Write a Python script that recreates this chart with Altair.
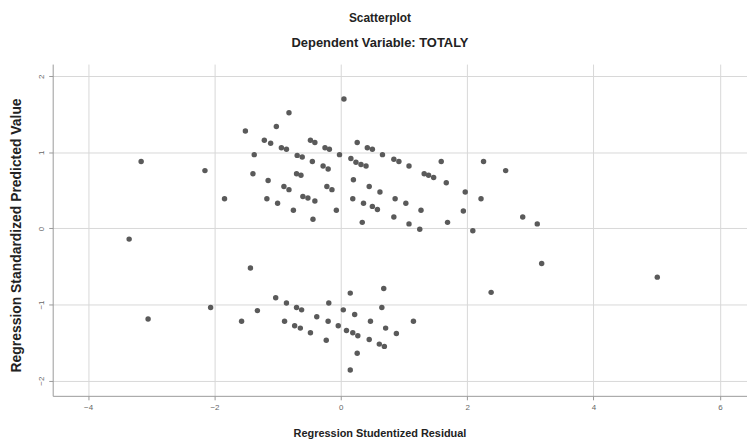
import altair as alt
import pandas as pd

# Regression Studentized Residual (x) and Regression Standardized Predicted Value (y)
resid = [
    -3.16, -3.35, -2.15, -1.84, -1.51, -1.37, -1.39, -1.17, -1.15, -1.02, -1.00, -0.82,
    -1.21, -1.11, -0.94, -0.86, -0.69, -0.61, -0.45, -0.48, -0.41, -0.25, -0.18, -0.02,
    0.05, -0.70, -0.63, -0.28, -0.20, -0.90, -0.82, -0.22, -0.14, -0.60, -0.52, -0.41,
    -0.75, -0.44, -0.07,
    0.26, 0.42, 0.50, 0.66, 0.84, 0.92, 1.08, 1.32, 1.39, 1.47, 1.59, 1.67, 2.26, 2.61,
    0.16, 0.24, 0.32, 0.40, 0.20, 0.45, 0.62, 0.19, 0.36, 0.50, 0.58, 0.86, 1.03, 1.27,
    0.34, 0.84, 1.08, 1.25, 1.69, 1.97, 1.94, 2.22, 2.09, 2.88, 3.11,
    -3.05, -1.43, -2.06, -1.57, -1.32, -1.03, -0.86, -0.70, -0.62, -0.38, -0.19, -0.20,
    0.04, -0.89, -0.73, -0.64, -0.48, -0.23, -0.04, 0.09,
    0.15, 0.68, 0.65, 0.22, 0.47, 0.71, 0.88, 1.15, 0.19, 0.27, 0.45, 0.61, 0.69,
    0.26, 0.15, 2.38, 3.18, 5.01,
]
pred = [
    0.88, -0.14, 0.76, 0.39, 1.28, 0.97, 0.72, 0.39, 0.63, 1.34, 0.33, 1.52,
    1.16, 1.12, 1.06, 1.04, 0.96, 0.94, 0.88, 1.16, 1.13, 1.06, 1.04, 0.97,
    1.70, 0.72, 0.70, 0.82, 0.78, 0.55, 0.51, 0.55, 0.51, 0.42, 0.40, 0.36,
    0.24, 0.12, 0.24,
    1.13, 1.06, 1.04, 0.97, 0.91, 0.88, 0.82, 0.72, 0.70, 0.67, 0.88, 0.60, 0.88, 0.76,
    0.92, 0.87, 0.84, 0.82, 0.64, 0.55, 0.48, 0.39, 0.33, 0.29, 0.25, 0.39, 0.33, 0.24,
    0.08, 0.15, 0.06, -0.01, 0.08, 0.48, 0.23, 0.39, -0.03, 0.15, 0.06,
    -1.19, -0.52, -1.04, -1.22, -1.08, -0.91, -0.98, -1.04, -1.07, -1.16, -0.98, -1.22,
    -1.07, -1.22, -1.28, -1.31, -1.37, -1.47, -1.28, -1.34,
    -0.85, -0.79, -1.04, -1.13, -1.22, -1.31, -1.38, -1.22, -1.37, -1.41, -1.46, -1.52, -1.55,
    -1.64, -1.86, -0.84, -0.46, -0.64,
]

x_ticks = [-4, -2, 0, 2, 4, 6]
y_ticks = [-2, -1, 0, 1, 2]

df = pd.DataFrame({"resid": resid, "pred": pred})

font = "Liberation Sans"

chart = alt.Chart(df).mark_circle(size=30, color="#5a5a5a", opacity=1).encode(
    x=alt.X(
        "resid:Q",
        scale=alt.Scale(domain=[-4.56, 6.43], nice=False, zero=False),
        axis=alt.Axis(
            values=x_ticks,
            title="Regression Studentized Residual",
            titleX=329,
            titleY=38,
            titleBaseline="middle",
            titleFontSize=11,
            labelFontSize=8,
            labelColor="#666666",
            labelPadding=4,
            domainColor="#9a9a9a",
            tickColor="#9a9a9a",
            tickSize=4,
            gridColor="#d8d8d8",
        ),
    ),
    y=alt.Y(
        "pred:Q",
        scale=alt.Scale(domain=[-2.2, 2.16], nice=False, zero=False),
        axis=alt.Axis(
            values=y_ticks,
            title="Regression Standardized Predicted Value",
            titleX=-36,
            titleY=172,
            titleBaseline="middle",
            titleFontSize=14,
            labelAngle=270,
            labelAlign="center",
            labelBaseline="bottom",
            labelFontSize=8,
            labelColor="#666666",
            labelPadding=3,
            domainColor="#9a9a9a",
            tickColor="#9a9a9a",
            tickSize=4,
            gridColor="#d8d8d8",
        ),
    ),
).properties(
    width=699,
    height=334,
    padding={"left": 45, "top": 55, "right": 0, "bottom": 45},
    autosize=alt.AutoSizeParams(type="none"),
    title=alt.TitleParams(
        text="Scatterplot",
        subtitle="Dependent Variable: TOTALY",
        anchor="middle",
        dx=-20,
        offset=13,
        fontSize=12,
        subtitleFontSize=13,
        font=font,
        subtitleFont=font,
        fontWeight="bold",
        subtitleFontWeight="bold",
        color="#222222",
        subtitleColor="#222222",
        subtitlePadding=12,
    ),
).configure_view(stroke=None).configure_axis(
    titleFont=font,
    labelFont=font,
    titleFontWeight="bold",
    titleColor="#222222",
)

chart.save("out.html", embed_options={"renderer": "svg", "actions": False})
